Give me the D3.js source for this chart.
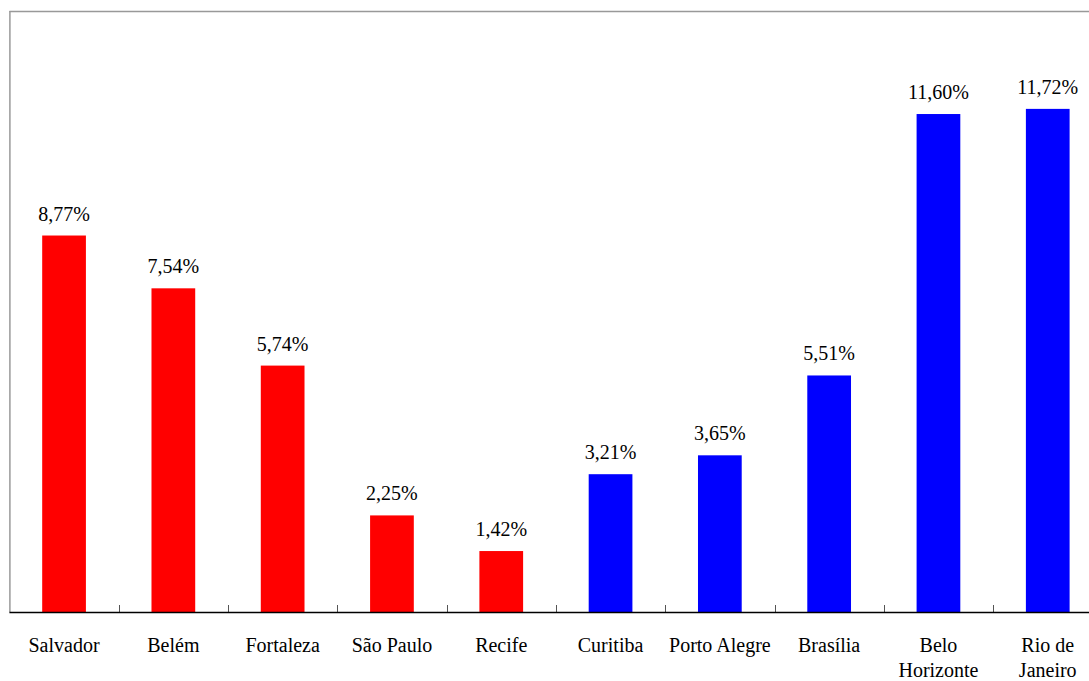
<!DOCTYPE html>
<html><head><meta charset="utf-8">
<script src="https://cdn.jsdelivr.net/npm/d3@7"></script>
<style>body{margin:0;background:#fff;}svg{display:block;}</style>
</head><body>
<svg id="c" width="1089" height="681"></svg>
<script>
const categories = ["Salvador","Belém","Fortaleza","São Paulo","Recife","Curitiba","Porto Alegre","Brasília","Belo Horizonte","Rio de Janeiro"];
const categoryLines = [["Salvador"],["Belém"],["Fortaleza"],["São Paulo"],["Recife"],["Curitiba"],["Porto Alegre"],["Brasília"],["Belo","Horizonte"],["Rio de","Janeiro"]];
const values = [8.77,7.54,5.74,2.25,1.42,3.21,3.65,5.51,11.60,11.72];
const groups = ["north","north","north","north","north","south","south","south","south","south"];
const labels = ["8,77%","7,54%","5,74%","2,25%","1,42%","3,21%","3,65%","5,51%","11,60%","11,72%"];
const groupColors = {north:"#ff0000", south:"#0000ff"};
const yMax = 14;

const svg = d3.select("#c");
const pLeft = 9.4, pRight = 1102.4, pTop = 11, pBottom = 612;
const x = d3.scaleBand().domain(categories).range([pLeft,pRight]).paddingInner(0.6).paddingOuter(0.3);
const y = d3.scaleLinear().domain([0,yMax]).range([pBottom,pTop]);
const font = "'Liberation Serif'";

// frame lines
svg.append("line").attr("x1",pLeft).attr("x2",1089).attr("y1",pTop+0.5).attr("y2",pTop+0.5).attr("stroke","#999").attr("stroke-width",1.5);
svg.append("line").attr("x1",pLeft+0.5).attr("x2",pLeft+0.5).attr("y1",pTop).attr("y2",pBottom).attr("stroke","#999").attr("stroke-width",1.5);

svg.selectAll("rect.bar").data(values).join("rect").attr("class","bar")
  .attr("x",(d,i)=>x(categories[i])).attr("width",x.bandwidth())
  .attr("y",d=>y(d)).attr("height",d=>y(0)-y(d))
  .attr("fill",(d,i)=>groupColors[groups[i]]);

// x axis
const step = x.step();
const tickPos = d3.range(1,categories.length).map(i=>pLeft + i*step);
svg.selectAll("line.tick").data(tickPos).join("line").attr("class","tick")
  .attr("x1",d=>Math.round(d)+0.5).attr("x2",d=>Math.round(d)+0.5)
  .attr("y1",pBottom-7).attr("y2",pBottom).attr("stroke","#555").attr("stroke-width",1);
svg.append("line").attr("x1",pLeft).attr("x2",1089).attr("y1",pBottom+0.5).attr("y2",pBottom+0.5).attr("stroke","#000").attr("stroke-width",1.5);

// value labels
svg.selectAll("text.val").data(values).join("text").attr("class","val")
  .attr("x",(d,i)=>x(categories[i])+x.bandwidth()/2).attr("y",d=>y(d)-15)
  .attr("text-anchor","middle").style("font-family",font).style("font-size","20px").attr("fill","#000")
  .text((d,i)=>labels[i]);

// category labels
const cat = svg.selectAll("text.cat").data(categoryLines).join("text").attr("class","cat")
  .attr("text-anchor","middle").style("font-family",font).style("font-size","20px").attr("fill","#000");
cat.each(function(lines,i){
  const t = d3.select(this);
  lines.forEach((l,j)=>{
    t.append("tspan").attr("x",x(categories[i])+x.bandwidth()/2).attr("y",652+j*25).text(l);
  });
});
</script>
</body></html>
